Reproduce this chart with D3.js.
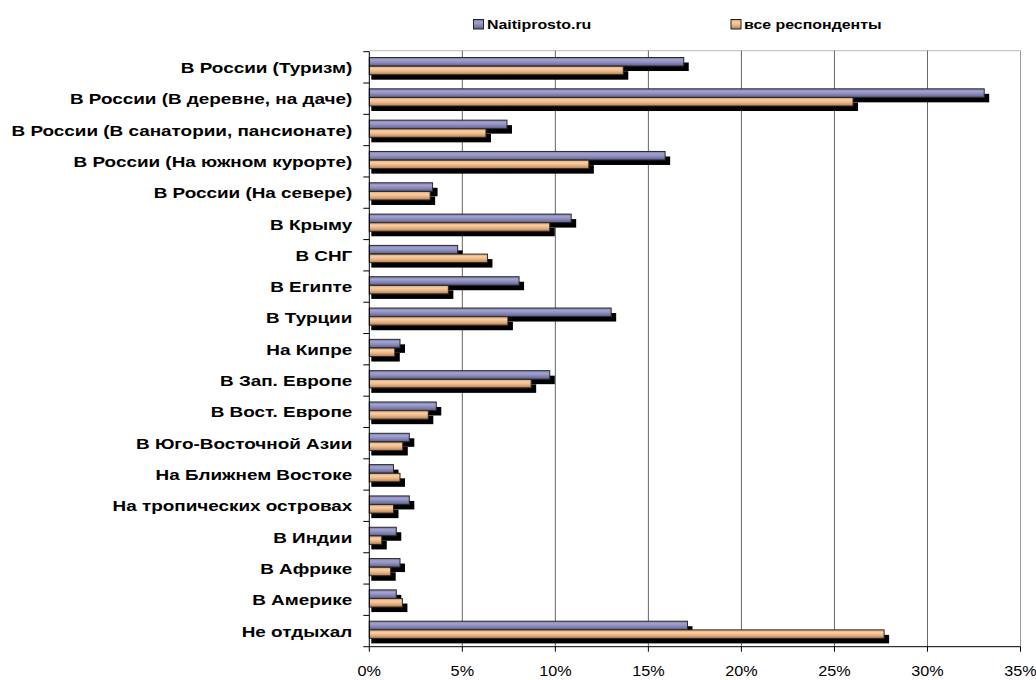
<!DOCTYPE html>
<html><head><meta charset="utf-8">
<script src="https://cdn.jsdelivr.net/npm/d3@7"></script>
<style>body{margin:0;background:#fff;} svg{display:block;}</style>
</head><body>
<svg id="c" width="1036" height="680"></svg>
<script>
const categories = ["В России (Туризм)","В России (В деревне, на даче)","В России (В санатории, пансионате)","В России (На южном курорте)","В России (На севере)","В Крыму","В СНГ","В Египте","В Турции","На Кипре","В Зап. Европе","В Вост. Европе","В Юго-Восточной Азии","На Ближнем Востоке","На тропических островах","В Индии","В Африке","В Америке","Не отдыхал"];
const seriesNames = ["Naitiprosto.ru","все респонденты"];
const naiti = [16.9,33.05,7.4,15.9,3.4,10.85,4.75,8.05,13.0,1.65,9.7,3.6,2.15,1.3,2.15,1.45,1.65,1.45,17.1];
const allResp = [13.65,26.0,6.27,11.8,3.27,9.7,6.35,4.25,7.45,1.37,8.7,3.17,1.8,1.65,1.3,0.67,1.15,1.78,27.67];
const xTicks = [0,5,10,15,20,25,30,35];

const svg = d3.select("#c");
const L=369.3, R=1020.5, T=51.7, B=646.7;
const x = d3.scaleLinear().domain([0,35]).range([L,R]);
const y = d3.scaleBand().domain(categories).range([T,B]);
const rh = y.bandwidth();
const inner = d3.scaleBand().domain([0,1]).range([rh*0.18, rh*0.18+rh*0.56]).padding(0.02);
const FONT = "Liberation Sans, Arial, sans-serif";

const defs = svg.append("defs");
function grad(id, stops){
  const g = defs.append("linearGradient").attr("id",id).attr("x1",0).attr("y1",0).attr("x2",0).attr("y2",1);
  stops.forEach(s=>g.append("stop").attr("offset",s[0]).attr("stop-color",s[1]));
}
grad("gBlue",[[0,"#7c7cad"],[0.3,"#a3a3cf"],[0.6,"#8a8abb"],[1,"#5e5e8c"]]);
grad("gOrange",[[0,"#d8a070"],[0.3,"#f8d0a4"],[0.6,"#ebb483"],[1,"#b47e56"]]);
const fills=["url(#gBlue)","url(#gOrange)"];

// top border
svg.append("line").attr("x1",L).attr("x2",R).attr("y1",T-1).attr("y2",T-1).attr("stroke","#bbb").attr("stroke-width",1);
// gridlines
svg.append("g").selectAll("line").data(xTicks.slice(1)).join("line")
  .attr("x1",d=>x(d)).attr("x2",d=>x(d)).attr("y1",T-1).attr("y2",B)
  .attr("stroke",d=>d===35?"#999":"#666").attr("stroke-width",1);

const series=[naiti,allResp];
// shadows
series.forEach((vals,si)=>{
  svg.append("g").selectAll("rect").data(vals).join("rect")
    .attr("x",L+2).attr("y",(d,i)=>y(categories[i])+inner(si)+5)
    .attr("width",d=>x(d)-L+3).attr("height",inner.bandwidth())
    .attr("fill","#000");
});
series.forEach((vals,si)=>{
  svg.append("g").selectAll("rect").data(vals).join("rect")
    .attr("x",L).attr("y",(d,i)=>y(categories[i])+inner(si))
    .attr("width",d=>x(d)-L).attr("height",inner.bandwidth())
    .attr("fill",fills[si]).attr("stroke","#2a2a2a").attr("stroke-width",1);
});

// y axis
const ya = svg.append("g").attr("transform",`translate(${L},0)`);
ya.append("line").attr("x1",0).attr("x2",0).attr("y1",T).attr("y2",B).attr("stroke","#000");
const bounds = categories.map(c=>y(c)).concat([B]);
ya.selectAll("line.t").data(bounds).join("line").attr("class","t")
  .attr("x1",-6).attr("x2",0).attr("y1",d=>d).attr("y2",d=>d).attr("stroke","#000");
ya.selectAll("text").data(categories).join("text")
  .attr("transform",d=>`translate(-17,${y(d)+rh/2}) scale(1.22,1)`)
  .attr("dy","0.36em").attr("text-anchor","end")
  .attr("font-family",FONT).attr("font-weight","bold").attr("font-size",15.5)
  .text(d=>d);

// x axis
const xa = svg.append("g").attr("transform",`translate(0,${B})`);
xa.append("line").attr("x1",L).attr("x2",R).attr("stroke","#000");
xa.selectAll("line.t").data(xTicks).join("line").attr("class","t")
  .attr("x1",d=>x(d)).attr("x2",d=>x(d)).attr("y1",0).attr("y2",5).attr("stroke","#000");
xa.selectAll("text").data(xTicks).join("text")
  .attr("transform",d=>`translate(${x(d)},29) scale(1.08,1)`).attr("text-anchor","middle")
  .attr("font-family",FONT).attr("font-size",15)
  .text(d=>d+"%");

// legend
const leg = [{x:473.5,tx:487},{x:731,tx:744}];
seriesNames.forEach((n,i)=>{
  svg.append("rect").attr("x",leg[i].x).attr("y",19.5).attr("width",10).attr("height",9.5)
    .attr("fill",fills[i]).attr("stroke","#222").attr("stroke-width",1);
  svg.append("text").attr("transform",`translate(${leg[i].tx},28.5) scale(1.18,1)`)
    .attr("font-family",FONT).attr("font-weight","bold").attr("font-size",13.5)
    .text(n);
});
</script>
</body></html>
